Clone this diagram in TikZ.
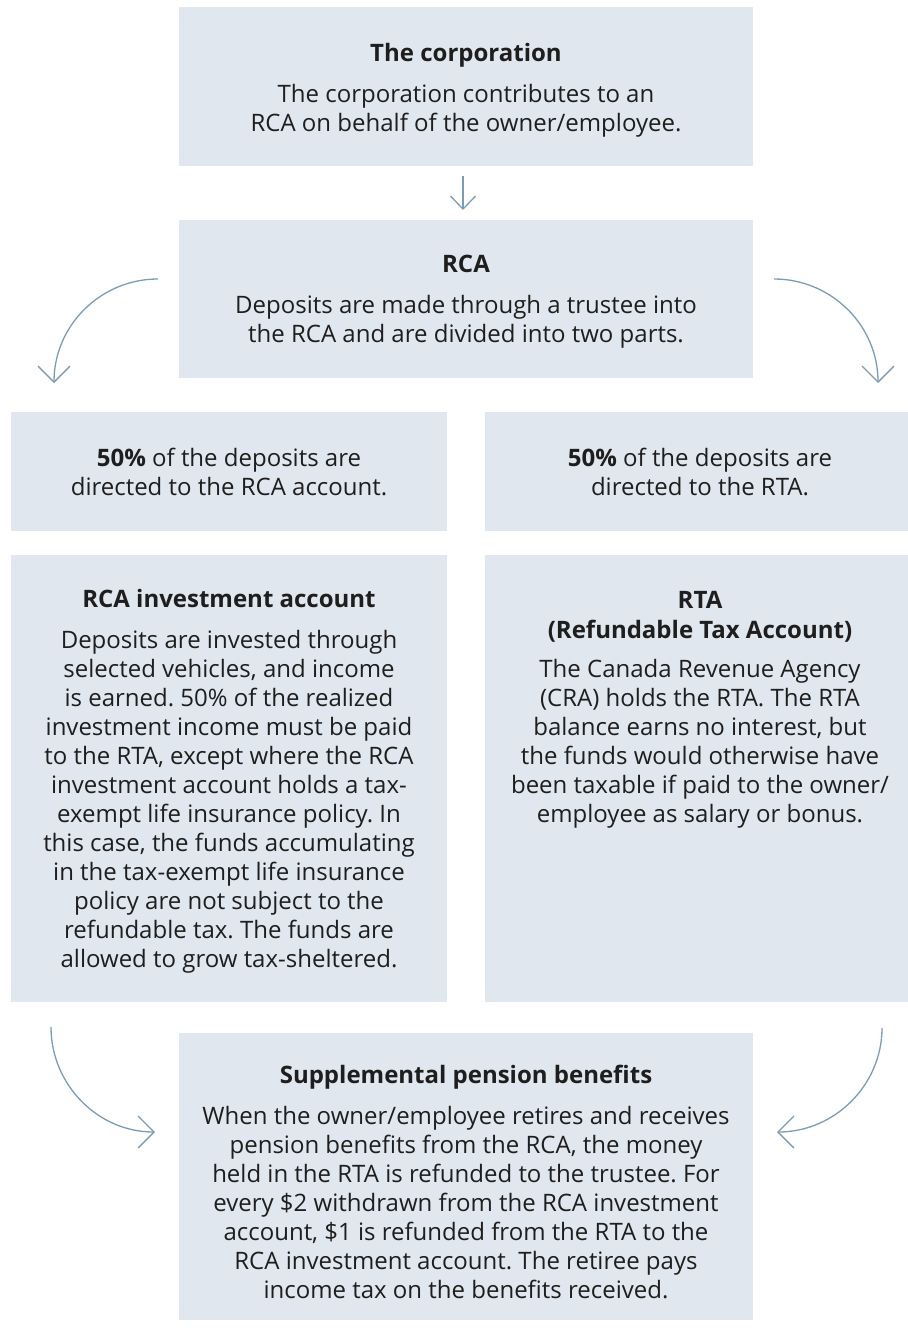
\documentclass[tikz,border=0pt]{standalone}
\usepackage{fontspec}
\setmainfont{Open Sans}
\usetikzlibrary{arrows.meta}
\definecolor{boxfill}{HTML}{E1E7EE}
\definecolor{arrowc}{HTML}{7B9CB5}
\definecolor{txt}{HTML}{1E1E1E}
\newcommand\bodyfnt{\fontsize{24}{29}\selectfont}
\frenchspacing
\begin{document}
\begin{tikzpicture}[x=1pt,y=-1pt,
  box/.style={fill=boxfill, inner sep=0pt},
  txtnode/.style={inner sep=0pt, text=txt, align=center, font=\bodyfnt},
  arr/.style={draw=arrowc, line width=1.3pt, -{Straight Barb[length=16pt,width=32pt]}},
  arrsmall/.style={draw=arrowc, line width=1.3pt, -{Straight Barb[length=13pt,width=25pt]}}]
\useasboundingbox (0,0) rectangle (907,1329);

% boxes
\node[box, minimum width=574pt, minimum height=159pt] (corp) at (466,86.5) {};
\node[box, minimum width=574pt, minimum height=158pt] (rca) at (466,299) {};
\node[box, minimum width=436pt, minimum height=119pt] (left50) at (229,471.5) {};
\node[box, minimum width=430pt, minimum height=119pt] (right50) at (700,471.5) {};
\node[box, minimum width=436pt, minimum height=447pt] (inv) at (229,778.5) {};
\node[box, minimum width=430pt, minimum height=447pt] (rta) at (700,778.5) {};
\node[box, minimum width=574pt, minimum height=287pt] (ben) at (466,1176.5) {};

% texts
\node[txtnode] (corpt) at (466,90.5)
  {\textbf{The corporation}\\[12pt]The corporation contributes to an\\RCA on behalf of the owner/employee.};
\node[txtnode] (rcat) at (466,302)
  {\textbf{RCA}\\[12pt]Deposits are made through a trustee into\\the RCA and are divided into two parts.};
\node[txtnode] (left50t) at (229,471.5)
  {\textbf{50\%} of the deposits are\\directed to the RCA account.};
\node[txtnode] (right50t) at (700,471.5)
  {\textbf{50\%} of the deposits are\\directed to the RTA.};
\node[txtnode] (invt) at (229,781)
  {\textbf{RCA investment account}\\[12pt]
   Deposits are invested through\\
   selected vehicles, and income\\
   is earned. 50\% of the realized\\
   investment income must be paid\\
   to the RTA, except where the RCA\\
   investment account holds a tax-\\
   exempt life insurance policy. In\\
   this case, the funds accumulating\\
   in the tax-exempt life insurance\\
   policy are not subject to the\\
   refundable tax. The funds are\\
   allowed to grow tax-sheltered.};
\node[txtnode, anchor=north] (rtat) at (700,591)
  {\textbf{RTA}\\[1pt]\textbf{(Refundable Tax Account)}\\[10.5pt]
   The Canada Revenue Agency\\
   (CRA) holds the RTA. The RTA\\
   balance earns no interest, but\\
   the funds would otherwise have\\
   been taxable if paid to the owner/\\
   employee as salary or bonus.};
\node[txtnode] (bent) at (466,1182)
  {\textbf{Supplemental pension benefits}\\[12pt]
   When the owner/employee retires and receives\\
   pension benefits from the RCA, the money\\
   held in the RTA is refunded to the trustee. For\\
   every \$2 withdrawn from the RCA investment\\
   account, \$1 is refunded from the RTA to the\\
   RCA investment account. The retiree pays\\
   income tax on the benefits received.};

% connectors
\coordinate (c1s) at (463,176);
\coordinate (c1e) at (463,210);
\draw[arrsmall] (c1s) -- (c1e);

\coordinate (lts) at (158,279);
\coordinate (lte) at (54,383);
\draw[arr] (lts) .. controls (100.6,279) and (54,325.6) .. (lte);

\coordinate (rts) at (774,279);
\coordinate (rte) at (878,383);
\draw[arr] (rts) .. controls (831.4,279) and (878,325.6) .. (rte);

\coordinate (lbs) at (51,1027);
\coordinate (lbe) at (155,1132);
\draw[arr] (lbs) .. controls (51,1084.4) and (97.6,1132) .. (lbe);

\coordinate (rbs) at (882,1028);
\coordinate (rbe) at (777,1132);
\draw[arr] (rbs) .. controls (882,1085) and (834.5,1132) .. (rbe);
\end{tikzpicture}
\end{document}
